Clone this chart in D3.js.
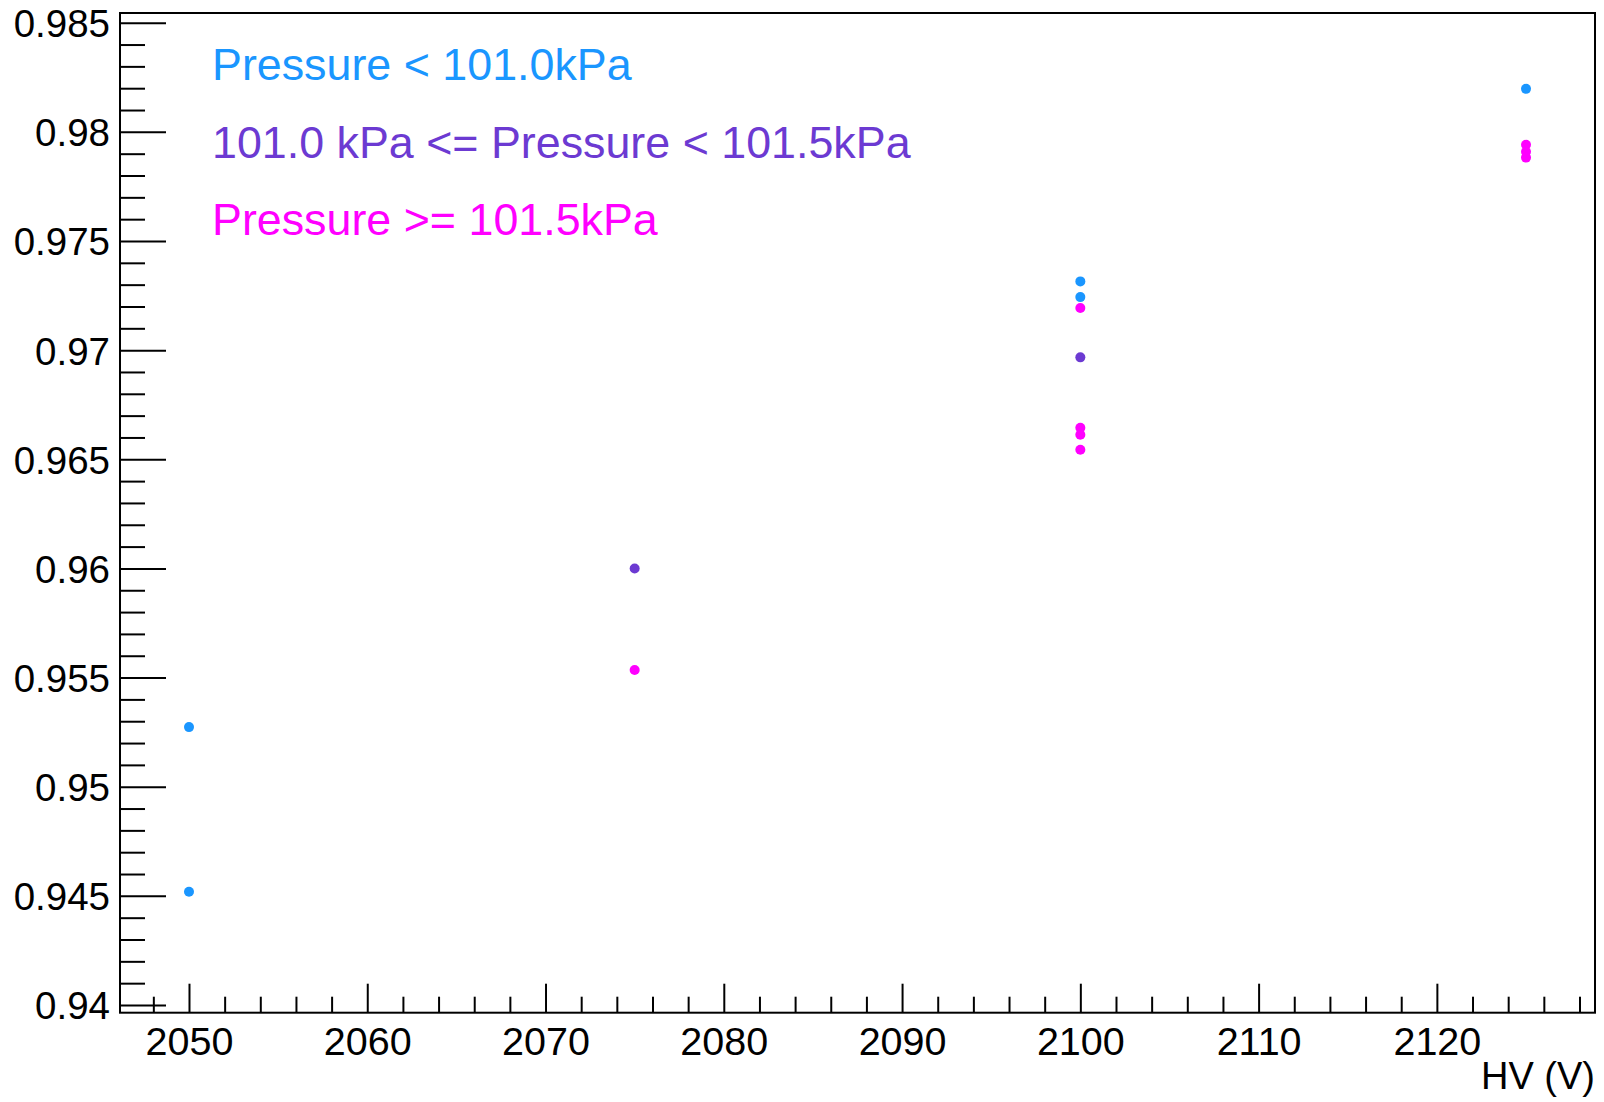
<!DOCTYPE html>
<html>
<head>
<meta charset="utf-8">
<script src="https://cdn.jsdelivr.net/npm/d3@7"></script>
<style>
  html, body { margin: 0; padding: 0; background: #fff; }
  svg { display: block; }
</style>
</head>
<body>
<svg id="chart" width="1604" height="1102"></svg>
<script>
// ---- data ----
const seriesNames = ["Pressure < 101.0kPa", "101.0 kPa <= Pressure < 101.5kPa", "Pressure >= 101.5kPa"];
const seriesColors = ["#1a96ff", "#6c3ad2", "#ff00ff"];
const lowHV  = [2050, 2050, 2100, 2100, 2125];
const lowEff = [0.95273, 0.94519, 0.97315, 0.97243, 0.98197];
const midHV  = [2075, 2100];
const midEff = [0.9600, 0.96967];
const highHV  = [2075, 2100, 2100, 2100, 2100, 2125, 2125, 2125];
const highEff = [0.95535, 0.97193, 0.96644, 0.96612, 0.96544, 0.97941, 0.97909, 0.97882];
const xTicks = [2050, 2060, 2070, 2080, 2090, 2100, 2110, 2120];
const yTicks = [0.94, 0.945, 0.95, 0.955, 0.96, 0.965, 0.97, 0.975, 0.98, 0.985];
const xTitle = "HV (V)";

// ---- layout ----
const L = 120, R = 1595, T = 13, B = 1012.7;
const svg = d3.select("#chart");
const font = "'Liberation Sans', Arial, Helvetica, sans-serif";

const x = d3.scaleLinear().domain([2046.13, 2128.87]).range([L, R]);
const y = d3.scaleLinear().domain([0.939647, 0.985445]).range([B, T]);

const xMinor = d3.range(2048, 2129, 2).filter(v => !xTicks.includes(v));
const yMinor = d3.range(940, 986, 1).map(v => v / 1000).filter(v => !yTicks.some(t => Math.abs(t - v) < 1e-9));

// y axis minor
svg.append("g").attr("transform", `translate(${L},0)`)
  .call(d3.axisLeft(y).tickValues(yMinor).tickSize(-25).tickFormat(""))
  .call(g => g.select(".domain").remove())
  .call(g => g.selectAll("line").attr("stroke", "#000").attr("stroke-width", 2));
// y axis major
svg.append("g").attr("transform", `translate(${L},0)`)
  .call(d3.axisLeft(y).tickValues(yTicks).tickSize(-46).tickPadding(10)
        .tickFormat(d => String(+d.toFixed(3))))
  .call(g => g.select(".domain").remove())
  .call(g => g.selectAll("line").attr("stroke", "#000").attr("stroke-width", 2))
  .call(g => g.selectAll("text").attr("font-family", font).attr("font-size", 38.5)
        .attr("fill", "#000").attr("dy", "0.36em"));

// x axis minor
svg.append("g").attr("transform", `translate(0,${B})`)
  .call(d3.axisBottom(x).tickValues(xMinor).tickSize(-16).tickFormat(""))
  .call(g => g.select(".domain").remove())
  .call(g => g.selectAll("line").attr("stroke", "#000").attr("stroke-width", 2));
// x axis major
svg.append("g").attr("transform", `translate(0,${B})`)
  .call(d3.axisBottom(x).tickValues(xTicks).tickSize(-29).tickPadding(14).tickFormat(d3.format("d")))
  .call(g => g.select(".domain").remove())
  .call(g => g.selectAll("line").attr("stroke", "#000").attr("stroke-width", 2))
  .call(g => g.selectAll("text").attr("font-family", font).attr("font-size", 39.5)
        .attr("fill", "#000"));

// frame
svg.append("rect").attr("x", L).attr("y", T).attr("width", R - L).attr("height", B - T)
  .attr("fill", "none").attr("stroke", "#000").attr("stroke-width", 2);

// x title
svg.append("text").attr("x", R).attr("y", 1089).attr("text-anchor", "end")
  .attr("font-family", font).attr("font-size", 38).attr("fill", "#000").text(xTitle);

// points
const series = [
  { hv: lowHV, eff: lowEff },
  { hv: midHV, eff: midEff },
  { hv: highHV, eff: highEff }
];
series.forEach((s, i) => {
  svg.append("g").selectAll("circle")
    .data(s.hv.map((h, j) => [h, s.eff[j]]))
    .join("circle")
    .attr("cx", d => x(d[0]))
    .attr("cy", d => y(d[1]))
    .attr("r", 5)
    .attr("fill", seriesColors[i]);
});

// legend
const legendY = [80, 158, 235];
seriesNames.forEach((n, i) => {
  svg.append("text").attr("x", 212).attr("y", legendY[i])
    .attr("font-family", font).attr("font-size", 44.8).attr("fill", seriesColors[i]).text(n);
});
</script>
</body>
</html>
